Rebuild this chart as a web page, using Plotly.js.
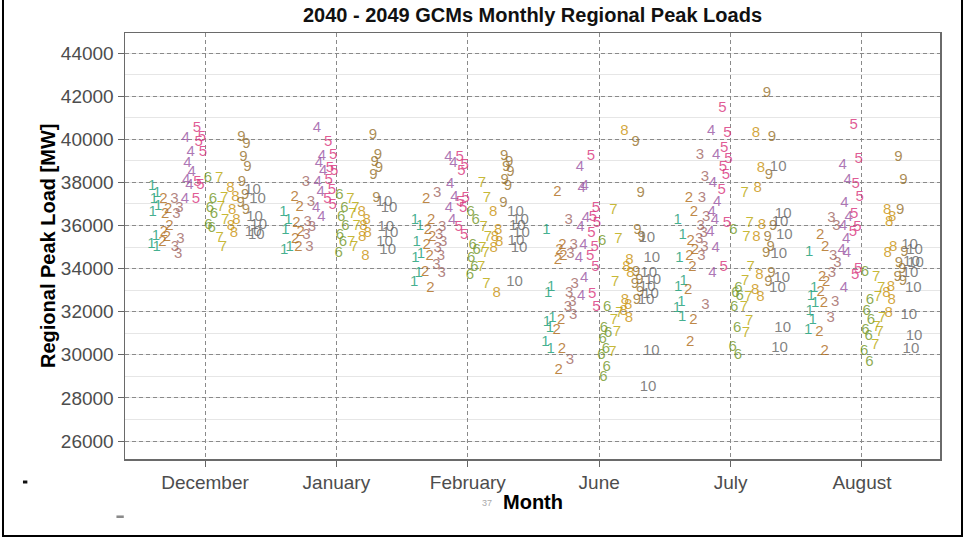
<!DOCTYPE html>
<html>
<head>
<meta charset="utf-8">
<script src="https://cdn.plot.ly/plotly-3.0.1.min.js"></script>
<style>html,body{margin:0;padding:0;background:#fff;}#chart{width:964px;height:538px;}</style>
</head>
<body>
<div id="chart"></div>
<script>
// Month categories and GCM labels
const months = ['December', 'January', 'February', 'June', 'July', 'August'];
const gcms = ['1', '2', '3', '4', '5', '6', '7', '8', '9', '10'];
const yTicks = [26000, 28000, 30000, 32000, 34000, 36000, 38000, 40000, 42000, 44000];

// Peak loads (MW) per GCM (1..10) for each month
const dec = [
  [37800, 37500, 37200, 36900, 36600, 35500, 35150, 35000],
  [37200, 36750, 36500, 35950, 35700, 35450, 35200],
  [37200, 36800, 36500, 35350, 35000, 34650],
  [40050, 39400, 38900, 38450, 38100, 37850, 37200],
  [40500, 40100, 39850, 39400, 38000, 37850, 37200],
  [38200, 37200, 36800, 36500, 36000, 35850],
  [38200, 37250, 36850, 36250, 35400, 35000],
  [37750, 37300, 36700, 36250, 35950, 35650],
  [40100, 39750, 39150, 38700, 38000, 37400, 37050, 36700],
  [37650, 37200, 36400, 36000, 35700, 35550]
];
const jan = [
  [36600, 36250, 35800, 35000, 34850],
  [37300, 36850, 36100, 35700, 35350, 35000],
  [38000, 37100, 36150, 35900, 35550, 35000],
  [40500, 39200, 38900, 38500, 38000, 37550, 36800, 36400],
  [39850, 39250, 38650, 38500, 38100, 37650, 37200, 36950],
  [37400, 36800, 36400, 35950, 35550, 35200, 34700],
  [37200, 36800, 36500, 35950, 35200, 35000],
  [36600, 36250, 35950, 35650, 35450, 34550],
  [40200, 39250, 38950, 38650, 38350, 37250],
  [37100, 36800, 35900, 35650, 35200, 34850]
];
const feb = [
  [36250, 35950, 35200, 34650, 34500, 33800, 33350],
  [37200, 36250, 35800, 35450, 35100, 34550, 33850, 33100],
  [37500, 35900, 35550, 35200, 34950, 34550, 34150, 33800],
  [39150, 38900, 37900, 37300, 36800, 36250],
  [39150, 38800, 38500, 37250, 37100, 36800, 35900, 35550],
  [36600, 36250, 35100, 34850, 34500, 34050, 33700],
  [37950, 37250, 35900, 35450, 34950, 34700, 34050, 33250],
  [36600, 35800, 35450, 35200, 34950, 32850],
  [39200, 38950, 38700, 38450, 38100, 37800, 37050],
  [36600, 36250, 35950, 35650, 35250, 34950, 33350]
];
const jun = [
  [35800, 33150, 32850, 31700, 31500, 31250, 30600, 30250],
  [37550, 35100, 34850, 34550, 34400, 31600, 31150, 30250, 29300],
  [36250, 35100, 34650, 33250, 32850, 32450, 32200, 31850, 29750],
  [38700, 37800, 37750, 36350, 35900, 35100, 34500, 33550, 32700],
  [39200, 36800, 36400, 36100, 35650, 35000, 34550, 34050, 32800, 32200],
  [35250, 32200, 31250, 31000, 30700, 30250, 30000, 29400, 28950],
  [36700, 35350, 33350, 31950, 31600, 31050, 30100],
  [40350, 34400, 34050, 33800, 32550, 32300, 32000, 31700],
  [39850, 37500, 35800, 35450, 33850, 33450, 33250, 32900, 32550],
  [35400, 34500, 33800, 33450, 33150, 32800, 32550, 30150, 28500]
];
const jul = [
  [36250, 35550, 34500, 33400, 33150, 32450, 32150, 31750],
  [37250, 36600, 35250, 34850, 34550, 34050, 33000, 31600, 30600],
  [39250, 38250, 37250, 36400, 35950, 35650, 35350, 35000, 34550, 32300],
  [40350, 39250, 37950, 37100, 36600, 36250, 35700, 34950, 33800],
  [41450, 40300, 39600, 39050, 38700, 38350, 37650, 36100, 34050],
  [35800, 33100, 32850, 32700, 32200, 31250, 30350, 30000],
  [37500, 36100, 35450, 34050, 33400, 32650, 32200, 31550, 31000],
  [40300, 38650, 37750, 36000, 35450, 33700, 33000, 32650],
  [42150, 40100, 38350, 35950, 35450, 35000, 34700, 33800, 33350],
  [38700, 36500, 36150, 35550, 34650, 33550, 33100, 31250, 30300]
];
const aug = [
  [34750, 33100, 32700, 32400, 32000, 31600, 31150],
  [35550, 35000, 33600, 33350, 32900, 32400, 31050, 30150],
  [36350, 35950, 34550, 34250, 33800, 32450, 31700],
  [38800, 38100, 37050, 36400, 35950, 35350, 34850, 34700, 33100],
  [40650, 39050, 37900, 37300, 36500, 35900, 35700, 33950, 33700],
  [33850, 32550, 32000, 31600, 31150, 30850, 30150, 29650],
  [33600, 33100, 32650, 31700, 31300, 31050, 30450],
  [36700, 36400, 36150, 35000, 34700, 33150, 32850, 32550, 31950],
  [39150, 38100, 36700, 34750, 34250, 33950, 33600, 33400],
  [35100, 34850, 34300, 34250, 33800, 33100, 31850, 30850, 30250]
];
const byMonth = [dec, jan, feb, jun, jul, aug];

// styling
const colors = ['#1B9E77', '#AF6D1C', '#A16864', '#9B58A5', '#D9377E',
                '#74982A', '#BBA90B', '#CA930E', '#98722D', '#666666'];
const dodge = 0.085;
const jit = [-0.02, 0.018, -0.006, 0.026, -0.016, 0.008, -0.026, 0.014, -0.01, 0.022];
const FONT = 'Liberation Sans, Arial, sans-serif';

function hexA(h, a) {
  const r = parseInt(h.slice(1, 3), 16), g = parseInt(h.slice(3, 5), 16), b = parseInt(h.slice(5, 7), 16);
  return 'rgba(' + r + ',' + g + ',' + b + ',' + a + ')';
}

const traces = gcms.map((g, k) => {
  const x = [], y = [];
  byMonth.forEach((m, mi) => {
    m[k].forEach((v, j) => {
      x.push(mi + (k - 4.5) * dodge + jit[j % jit.length]);
      y.push(v);
    });
  });
  return {
    type: 'scatter', mode: 'text', x: x, y: y,
    text: x.map(() => g), textposition: 'middle center',
    textfont: {family: FONT, size: 15, color: hexA(colors[k], 0.82)},
    showlegend: false, hoverinfo: 'skip', cliponaxis: false
  };
});

const layout = {
  width: 964, height: 538,
  margin: {l: 125, r: 24, t: 33, b: 79},
  paper_bgcolor: '#ffffff', plot_bgcolor: '#ffffff',
  font: {family: FONT},
  title: {
    text: '<b>2040 - 2049 GCMs Monthly Regional Peak Loads</b>',
    font: {family: FONT, size: 20, color: '#111'},
    xref: 'paper', x: 0.5, xanchor: 'center',
    yref: 'container', y: 0.972, yanchor: 'middle'
  },
  xaxis: {
    range: [-0.609, 5.594],
    tickmode: 'array', tickvals: [0, 1, 2, 3, 4, 5], ticktext: months,
    showgrid: true, gridcolor: '#8a8a8a', griddash: '4px,3px', gridwidth: 1,
    ticks: 'outside', ticklen: 6, tickcolor: '#666',
    tickfont: {family: FONT, size: 19, color: '#4d4d4d'},
    zeroline: false, showline: true, mirror: true, linecolor: '#6a6a6a', linewidth: 1.5
  },
  yaxis: {
    range: [25165, 44930],
    tickmode: 'array', tickvals: yTicks, ticktext: yTicks.map(String),
    showgrid: true, gridcolor: '#8a8a8a', griddash: '4px,3px', gridwidth: 1,
    minor: {dtick: 1000, tick0: 0, showgrid: true, gridcolor: '#e6e6e6', griddash: 'solid', gridwidth: 1, ticks: ''},
    ticks: 'outside', ticklen: 6, tickcolor: '#666',
    tickfont: {family: FONT, size: 19, color: '#4d4d4d'},
    zeroline: false, showline: true, mirror: true, linecolor: '#6a6a6a', linewidth: 1.5
  },
  annotations: [
    {text: '<b>Regional Peak Load [MW]</b>', xref: 'paper', yref: 'paper', x: -0.0945, y: 0.5,
     textangle: -90, showarrow: false, font: {family: FONT, size: 20, color: '#000'},
     xanchor: 'center', yanchor: 'middle'},
    {text: '<b>Month</b>', xref: 'paper', yref: 'paper', x: 0.5, y: -0.101,
     showarrow: false, font: {family: FONT, size: 20, color: '#000'},
     xanchor: 'center', yanchor: 'middle'},
    {text: '37', xref: 'paper', yref: 'paper', x: 0.444, y: -0.103,
     showarrow: false, font: {family: FONT, size: 9, color: '#aaa'},
     xanchor: 'center', yanchor: 'middle'}
  ],
  shapes: [
    {type: 'rect', xref: 'paper', yref: 'paper', x0: -0.1497, x1: 1.027, y0: -0.1808, y1: 1.12,
     line: {color: '#000', width: 2}, fillcolor: 'rgba(0,0,0,0)', layer: 'above'},
    {type: 'rect', xref: 'paper', yref: 'paper', x0: -0.1252, x1: -0.1198, y0: -0.0575, y1: -0.0505,
     line: {width: 0}, fillcolor: '#111'},
    {type: 'rect', xref: 'paper', yref: 'paper', x0: -0.0105, x1: -0.0015, y0: -0.1385, y1: -0.1325,
     line: {width: 0}, fillcolor: 'rgba(60,60,60,0.6)'}
  ]
};

Plotly.newPlot('chart', traces, layout, {staticPlot: true, displayModeBar: false});
</script>
</body>
</html>
